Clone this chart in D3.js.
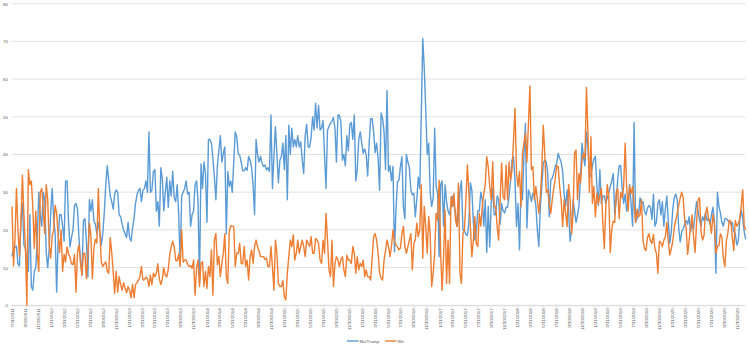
<!DOCTYPE html>
<html><head><meta charset="utf-8">
<script src="https://cdn.jsdelivr.net/npm/d3@7"></script>
<style>html,body{margin:0;padding:0;background:#fff;}svg{display:block;}</style>
</head><body>
<svg id="chart" width="749" height="347"></svg>
<script>
// Weekly series, starting 7/31/2011
const startDate = "2011-07-31";
const seriesNames = ["Mx/Trump", "We"];
const mxTrump = [
13,15,15.4,15.7,11,10.4,22.6,27,16,15,
11,9,24,5,4,9,10,18,30,24,
21,30,28,14,10,15,24.4,31,23,19,
3.5,17,24,24,21,17,33,33,22,15.5,
18,20,26.5,27,25.5,18,12,8,22.5,23,
17,7.5,28,25,28,22.5,21.5,19,22,19.5,
16,19,24.5,32,37,33,29,27.5,25.5,29.5,
30.6,30,24,23.5,21.5,20,19,18,22,18,
17,20.5,23,27,29.3,30.5,31,27.5,30.5,31,
33,30,46,30,30.5,35.5,36,25,27.5,21,
36.5,33.5,25,30,34,26,33,29,35.5,28.5,
27.5,32,24,11,29,30,31,33,29.5,30,
21,24,25,32,33,27.5,6,37.5,31,38,
35,22,44,44,43,39,34,28,37,41,
45,38,40.3,42,19,35.5,31.5,33,30,38,
46,44.7,40.3,39.8,38,35.7,35.7,36.5,35.8,39.5,
38.5,36.5,32,24,44,40,38,39.5,37.7,36.8,
37.2,35.9,36.5,35.5,50.5,31,39.4,47.4,40,32.5,
38.5,39.5,43,36,45,28,47.8,40,47,42,
44,42,45,42,43.4,38.5,35,45,48,42,
42,44.5,50,46.5,53.6,47,53,46.5,47,49,
40,31,46.5,47.4,48.3,48.8,49.8,47,38,50.5,
50.4,48.5,38.5,40,37,45,41,48,48.5,44,
50.5,33,36,44,46,43,40.3,41.5,39.9,34.3,
43,49.5,49.5,46,40.5,43,39,30.5,51,49.5,
46,36,57,35.5,37,33,36.8,14.2,25,32.8,
33.2,36.8,39.4,26,23,40,38,36.5,30.6,29.3,
29.7,23.5,28,34,31,50,70.8,63,52,40,
43,29.7,26.2,28.5,47,31.5,29.7,12.9,32,33,
21,32,27.5,25,24,27,29,26.5,24.4,21,
23,30.5,33,20,19.8,18.8,18.5,22,32.5,30.5,
22,17.3,19.5,25,25,30,28,21,28,14,
26.2,15.5,27,31,24,24,29,28,21.5,27,
25,24.5,26,26,29,33,38.5,39.4,33,20.9,
27,14.7,31,28,40,48.3,20.5,30.6,29.5,27.5,
29.7,29,26.5,20,15.6,26,31.5,37.7,38.5,38,
35,23.5,33.2,33.7,35,36.8,37.7,40.3,39,38,
35.5,29.5,26.2,30.6,25,17,20,28,25,22,
24,26.5,34,43,39.4,37,46,42,34,34.5,
37,38.8,39.5,31.5,26.5,36,27,29,29,27,
28.5,29.8,31.5,33,35,24,28,33.5,37,37,
31,27,29.5,25,27.5,32,27,21,48.5,22,
23,24,28.5,27,27.5,25,24,25.8,26.5,26,
22.8,29.5,21,22,27,28,24,27.5,21,25.5,
29,22,16.5,19.5,25.5,28.5,29.5,28,20.5,16.8,
19.5,20.3,21.5,22.5,21.5,23.5,19.5,22,20.3,24,
27.5,25,22.5,21,23.5,22.5,24.5,22.5,23,21.5,
24,26,22,8.5,30,26.2,24.5,22,21,23,
23,22.5,22,21.5,22,19.5,19.1,16,17,22.5,
25.3,23,19.5,17.5
];
const we = [
26.2,10.5,17.5,31,20,13,22,34.5,24,15.5,
0,36,32,33,26,15.1,25,14,9,30,
31,25.5,19,32,28,16,12.5,18.5,19.8,26.5,
24.4,18.5,14,20,9,13.5,11.5,15.5,13.6,12.8,
11,10.8,13.5,3.5,14,16,11.5,8,13.8,13.8,
7,13.5,21.8,18.5,7,15,17.5,16.5,31,20,
11.5,10.3,11,11.5,9,8.5,18,14,9,3.2,
9,3.5,7.6,5.5,4,6,4.5,3.3,5,4,
2,5.5,2,5.5,6,6.7,7.6,10.3,6.7,6.8,
7.5,7,5,8,5.5,8.5,7.6,8.5,11,7,
5.5,7,10,8,7.6,9.5,13.5,15.5,17,15.5,
12,11.8,13.6,10.3,20,11.5,12,12,10.8,10.3,
10.5,9.8,12,2.7,9.8,12,5,11.1,11.6,5,
9,4.5,10.3,7.6,14.7,2.7,17.3,19,10.7,13,
7.6,11.1,13.8,19,7.6,5.8,19.5,21.1,21,20.9,
10.3,13.8,13.8,16.4,11.1,11,15.6,10.3,12,6.7,
12.9,14.7,11.1,15.6,17.3,15.5,14.5,12.9,12.9,12.9,
12.2,12.5,10.3,10.3,15.6,10.3,4,17.3,13.8,5.8,
5,5,6.5,2.3,1.4,8.5,12.9,17.3,15.6,18.7,
12,13.8,17.3,13.8,15.6,17.3,15.6,12.9,17.3,16.4,
15.6,18.2,13.8,13.8,17.7,17.3,16.4,12,11.1,17.3,
13.8,24.4,17.3,9.4,7.6,17.3,5,11.1,12.9,12,
10.3,12,12.9,9.4,7.6,13.3,12,12,11.1,15.6,
13.8,8.5,12.9,9.4,11.1,10.3,12,7.6,9.4,7.6,
7.6,6.7,12.5,18.2,19,17.3,13.8,8.5,7.2,6.7,
12,14.5,17.3,15.6,12.9,15.6,20,17,16,15.5,
14.7,15.2,19,20.9,15.6,13.8,15.5,17.3,19,9.4,
16.4,17.3,21.8,18.2,20,32,12.5,26.2,20.9,13.8,
23.5,19,5,8.5,13.8,24.4,22.6,33.2,13.8,4,
12.9,25.3,5.8,17.3,5.8,28.8,26.2,29.7,22.6,20.9,
32.4,8.5,5.8,19,20,28,37.2,29.7,20.9,12.9,
17.3,23.5,16.4,15.6,24.4,21,26.2,29.7,32,39.4,
36.8,31.5,28,38.1,26.2,26.2,20.9,17.3,28,37.7,
28.8,28,37.2,28,38,33.2,35.9,43.9,52.3,35,
31.5,35.5,26.2,40.3,43,45.6,38,48,58.2,36,
36.8,28,31.5,28,24.4,28.8,36,47.8,40,30,
30.6,27,24.4,28,31,33.5,37,36.8,31.5,28,
20.9,28,24.4,20.9,32,28,19,24.4,40.3,41.2,
28,35,32.4,38.5,40.3,39,57.8,45.6,30,44.7,
27,31.5,23.5,29.7,27,29,31,22,15,26,
32,29,14,20,22.3,22,30,31,23,30,
28.5,31.5,43,31.5,25,31.5,29.7,31.5,27,22,
25.5,23.5,24,28,17.3,15,14.5,18,19,17,
16.4,18.8,15,13.8,8.5,17,16.6,15.6,17.3,18,
22,17,13.3,15,17,20.5,22.6,24.4,26.5,28.5,
30,28.5,22.5,20.5,13.5,17.3,20.9,24,18,14,
22,28,28.5,19.5,17.3,18.5,24.4,26,23,22,
19.1,24,21.5,13.8,15.6,15.8,19,18,12.5,10.3,
17,19.1,22.6,22.3,18,14.5,22.5,21,21.5,23,
26.5,30.6,21,20
];
const yTicks = [0,10,20,30,40,50,60,70,80];
const xTickLabels = [
"7/31/2011","9/30/2011","11/30/2011",
"1/31/2012","3/31/2012","5/31/2012","7/31/2012","9/30/2012","11/30/2012",
"1/31/2013","3/31/2013","5/31/2013","7/31/2013","9/30/2013","11/30/2013",
"1/31/2014","3/31/2014","5/31/2014","7/31/2014","9/30/2014","11/30/2014",
"1/31/2015","3/31/2015","5/31/2015","7/31/2015","9/30/2015","11/30/2015",
"1/31/2016","3/31/2016","5/31/2016","7/31/2016","9/30/2016","11/30/2016",
"1/31/2017","3/31/2017","5/31/2017","7/31/2017","9/30/2017","11/30/2017",
"1/31/2018","3/31/2018","5/31/2018","7/31/2018","9/30/2018","11/30/2018",
"1/31/2019","3/31/2019","5/31/2019","7/31/2019","9/30/2019","11/30/2019",
"1/31/2020","3/31/2020","5/31/2020","7/31/2020","9/30/2020","11/30/2020"
];
const colors = ["#5b9bd5", "#ed7d31"];

(function () {
const parseISO = d3.timeParse("%Y-%m-%d");
const parseTick = d3.timeParse("%m/%d/%Y");
const start = parseISO(startDate);
const dates = mxTrump.map((_, i) => d3.timeDay.offset(start, 7 * i));
const tickDates = xTickLabels.map(parseTick);

const svg = d3.select("#chart");
const pLeft = 12, pRight = 745.7, pTop = 3.7, pBottom = 305.3;

const x = d3.scaleTime().domain([dates[0], dates[dates.length - 1]]).range([pLeft, pRight]);
const y = d3.scaleLinear().domain([0, 80]).range([pBottom, pTop]);

const font = "'Liberation Sans', Arial, sans-serif";

// gridlines
svg.append("g").selectAll("line").data(yTicks).join("line")
  .attr("x1", pLeft).attr("x2", 745)
  .attr("y1", d => y(d)).attr("y2", d => y(d))
  .attr("stroke", "#d9d9d9").attr("stroke-width", 0.8);

// y axis labels
const yAxis = d3.axisLeft(y).tickValues(yTicks).tickSize(0).tickPadding(3.5);
const gy = svg.append("g").attr("transform", `translate(${pLeft - 0.5},0)`).call(yAxis);
gy.select(".domain").remove();
gy.selectAll("text").attr("fill", "#595959").style("font-size", "4.4px").style("font-family", font);

// x axis
const xAxis = d3.axisBottom(x).tickValues(tickDates).tickFormat((d, i) => xTickLabels[i]).tickSize(2).tickPadding(1);
const gx = svg.append("g").attr("transform", `translate(0,${pBottom})`).call(xAxis);
gx.select(".domain").attr("stroke", "#d9d9d9").attr("stroke-width", 0.8).attr("d", `M${pLeft},0.5H745`);
gx.selectAll(".tick line").attr("stroke", "#d9d9d9").attr("stroke-width", 0.8);
gx.selectAll("text")
  .attr("fill", "#595959").style("font-size", "4.4px").style("font-family", font)
  .attr("text-anchor", "end")
  .attr("transform", "rotate(-90)")
  .attr("x", -3).attr("y", 0).attr("dy", "0.35em");

// lines
const line = d3.line().x((d, i) => x(dates[i])).y(d => y(d));
[mxTrump, we].forEach((s, k) => {
  svg.append("path").datum(s)
    .attr("fill", "none").attr("stroke", colors[k])
    .attr("stroke-width", 1.4).attr("stroke-linejoin", "round")
    .attr("d", line);
});

// legend
const legendX = [347, 385];
const lg = svg.append("g");
seriesNames.forEach((name, k) => {
  lg.append("line").attr("x1", legendX[k]).attr("x2", legendX[k] + 11.5)
    .attr("y1", 341).attr("y2", 341).attr("stroke", colors[k]).attr("stroke-width", 1.4);
  lg.append("text").attr("x", legendX[k] + 12.5).attr("y", 341).attr("dy", "0.35em")
    .attr("fill", "#595959").style("font-size", "4.4px").style("font-family", font)
    .text(name);
});
})();
</script>
</body></html>
